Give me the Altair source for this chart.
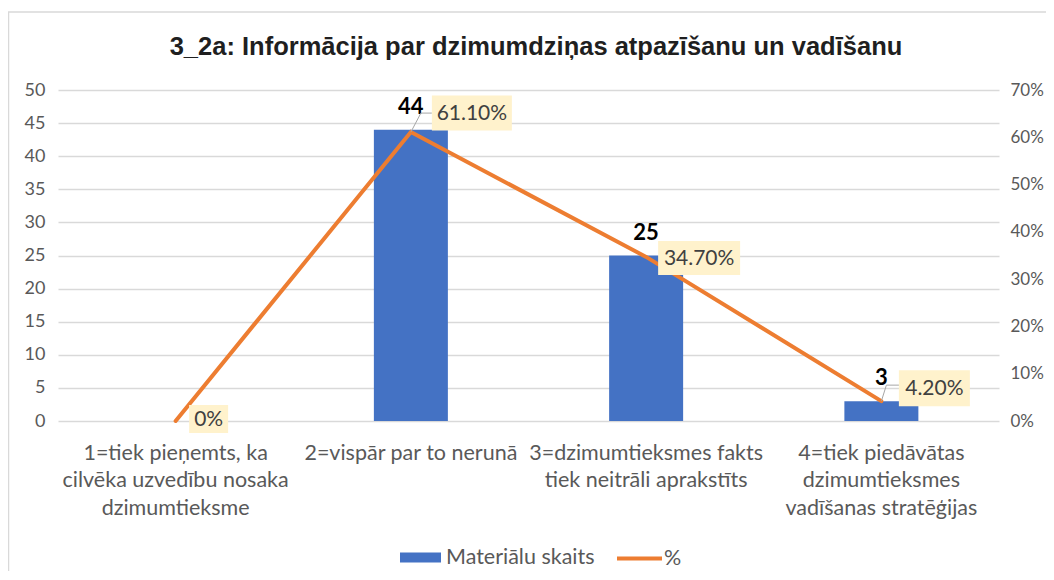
import altair as alt
import pandas as pd

# ---------------- data ----------------
category_lines = [
    ["1=tiek pieņemts, ka", "cilvēka uzvedību nosaka", "dzimumtieksme"],
    ["2=vispār par to nerunā"],
    ["3=dzimumtieksmes fakts", "tiek neitrāli aprakstīts"],
    ["4=tiek piedāvātas", "dzimumtieksmes", "vadīšanas stratēģijas"],
]
categories = ["\n".join(lines) for lines in category_lines]
counts = [0, 44, 25, 3]
percents = [0.0, 61.1, 34.7, 4.2]
percent_labels = ["0%", "61.10%", "34.70%", "4.20%"]
left_ticks = list(range(0, 51, 5))
right_ticks = list(range(0, 71, 10))
series_names = ["Materiālu skaits", "%"]
title_text = "3_2a: Informācija par dzimumdziņas atpazīšanu un vadīšanu"

df = pd.DataFrame({
    "idx": list(range(len(categories))),
    "cat": categories,
    "count": counts,
    "pct": percents,
    "pct_label": percent_labels,
    "count_label": [str(c) for c in counts],
    "s_bar": [series_names[0]] * len(categories),
    "s_line": [series_names[1]] * len(categories),
})

# ---------------- styles ----------------
FONT = "Lato"
BLUE = "#4472C4"
ORANGE = "#ED7D31"
GREY_TXT = "#595959"
# label placement (pixel offsets from the line point) and box sizes
pct_offsets = [(33, -2), (61, -19), (53, 1), (53, -13)]
box_sizes = [(39, 28), (80, 35), (82, 34), (71, 36)]
leaders = {1: [(0, 0), (10, -19), (21, -19)], 3: [(0, 0), (5, -16), (19, -16)]}

W, H = 941, 331
LEFT_DOMAIN = [0, 50]
RIGHT_DOMAIN = [0, 70]


def rect_path(cx, cy, w, h):
    x0, x1 = (cx - w / 2) / 100, (cx + w / 2) / 100
    y0, y1 = (cy - h / 2) / 100, (cy + h / 2) / 100
    return f"M{x0},{y0}L{x1},{y0}L{x1},{y1}L{x0},{y1}Z"


def poly_path(pts):
    return "M" + "L".join(f"{x / 100},{y / 100}" for x, y in pts)


def y_left(axis=None):
    return alt.Y("count:Q", scale=alt.Scale(domain=LEFT_DOMAIN, nice=False), axis=axis)


def y_right(axis=None):
    return alt.Y("pct:Q", scale=alt.Scale(domain=RIGHT_DOMAIN, nice=False), axis=axis)


x_enc = alt.X(
    "cat:N",
    sort=categories,
    scale=alt.Scale(paddingInner=0, paddingOuter=0),
    axis=alt.Axis(
        title=None, labelAngle=0, domain=False, ticks=False,
        labelExpr="split(datum.label, '\\n')",
        labelFont=FONT, labelFontSize=21.5, labelLineHeight=27.5,
        labelPadding=21, labelColor=GREY_TXT, labelLimit=400,
        labelBaseline="top",
    ),
)
x_plain = alt.X("cat:N", sort=categories)

base = alt.Chart(df)

layers = []

# frame around the chart
layers.append(
    alt.Chart(alt.Data(values=[{"a": 1}])).mark_rect(
        fill="transparent", stroke="#D9D9D9", strokeWidth=1.5,
    ).encode(
        x=alt.value(-49.5), x2=alt.value(1300),
        y=alt.value(-78), y2=alt.value(700),
    )
)

# bars (left axis)
layers.append(
    base.mark_bar(size=74).encode(
        x=x_enc,
        y=y_left(alt.Axis(
            title=None, orient="left", values=left_ticks, domain=False,
            ticks=False, grid=True, gridColor="#D9D9D9", gridWidth=1.5,
            labelFont=FONT, labelFontSize=18, labelColor=GREY_TXT,
            labelPadding=13,
        )),
        fill=alt.Fill(
            "s_bar:N",
            scale=alt.Scale(domain=[series_names[0]], range=[BLUE]),
            legend=alt.Legend(
                title=None, orient="none", legendX=342, legendY=447,
                symbolType="M-1,-0.244L1,-0.244L1,0.244L-1,0.244Z",
                symbolSize=1681, symbolStrokeWidth=0, labelOffset=5,
                labelFont=FONT, labelFontSize=21.5, labelColor=GREY_TXT,
                padding=0,
            ),
        ),
    )
)

# count labels
layers.append(
    base.transform_filter(alt.datum.count > 0).mark_text(
        font=FONT, fontSize=22, fontWeight="bold", color="#000000",
        baseline="middle", align="center", dy=-23,
    ).encode(x=x_plain, y=y_left(), text="count_label:N")
)

# percentage line (right axis)
layers.append(
    base.mark_line(strokeWidth=4, strokeCap="round").encode(
        x=x_plain,
        y=y_right(alt.Axis(
            title=None, orient="right", values=right_ticks, domain=False,
            ticks=False, grid=False, labelExpr="datum.value + '%'",
            labelFont=FONT, labelFontSize=17, labelColor=GREY_TXT,
            labelPadding=11,
        )),
        stroke=alt.Stroke(
            "s_line:N",
            scale=alt.Scale(domain=[series_names[1]], range=[ORANGE]),
            legend=alt.Legend(
                title=None, orient="none", legendX=557, legendY=444,
                symbolType="stroke", symbolSize=2025, symbolStrokeWidth=4,
                labelOffset=0, labelFont=FONT, labelFontSize=21.5,
                labelColor=GREY_TXT, padding=0,
            ),
        ),
    )
)

# percentage labels with boxes
for i in range(len(categories)):
    dx, dy = pct_offsets[i]
    w, h = box_sizes[i]
    sub = base.transform_filter(alt.datum.idx == i)
    if i in leaders:
        layers.append(
            sub.mark_point(
                shape=poly_path(leaders[i]), size=40000, filled=False,
                color="#A6A6A6", strokeWidth=1, opacity=1,
            ).encode(x=x_plain, y=y_right())
        )
    layers.append(
        sub.mark_point(
            shape=rect_path(dx, dy, w, h), size=40000, filled=True,
            color="#FFF2CC", strokeWidth=0, opacity=1,
        ).encode(x=x_plain, y=y_right())
    )
    layers.append(
        sub.mark_text(
            font=FONT, fontSize=21, color="#404040", align="center",
            baseline="middle", dx=dx, dy=dy + 1,
        ).encode(x=x_plain, y=y_right(), text="pct_label:N")
    )

# chart title
layers.append(
    alt.Chart(alt.Data(values=[{"t": title_text}])).mark_text(
        font="Liberation Sans", fontSize=25.5, fontWeight="bold",
        color="#1F1F1F", align="center", baseline="middle",
    ).encode(x=alt.value(478), y=alt.value(-43), text="t:N")
)

chart = alt.layer(*layers).resolve_scale(
    y="independent"
).properties(
    width=W, height=H,
    autosize=alt.AutoSizeParams(type="none"),
    padding={"left": 50, "top": 82, "right": 47, "bottom": 150},
    background="white",
).configure_view(stroke=None)

chart.save("out.html", embed_options={"renderer": "svg", "actions": False})
